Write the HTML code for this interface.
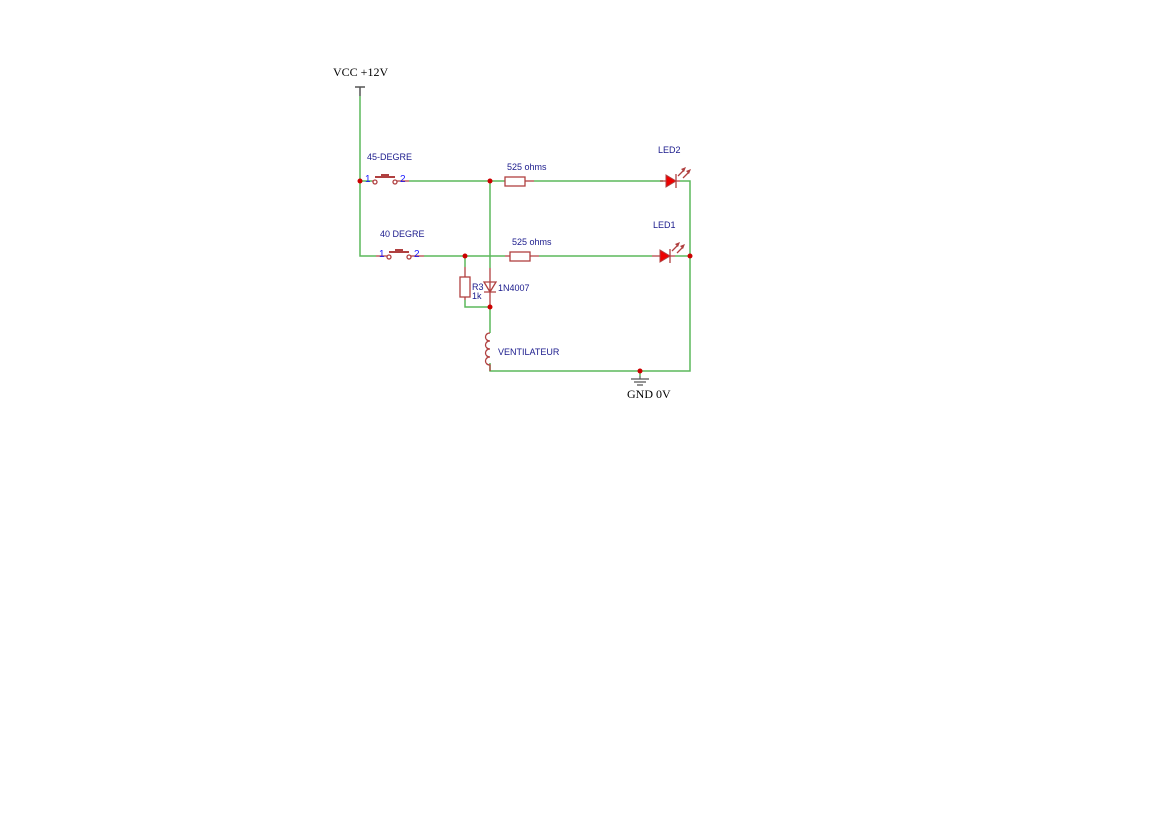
<!DOCTYPE html>
<html><head><style>body{margin:0;background:#fff}svg{display:block}</style></head><body>
<svg width="1169" height="827" xmlns="http://www.w3.org/2000/svg" font-family="Liberation Sans, sans-serif">
<g stroke="#5cb85c" stroke-width="1.5" fill="none">
<path d="M360 96V256H376"/>
<path d="M360 181H372"/>
<path d="M409 181H505"/>
<path d="M534 181H663"/>
<path d="M680 181H690V371H490V363"/>
<path d="M424 256H505"/>
<path d="M539 256H652"/>
<path d="M675 256H690"/>
<path d="M490 181V268"/>
<path d="M465 256V267"/>
<path d="M465 300V307H490V333"/>
<path d="M640 371V376"/>
</g>
<path d="M360 96V87M355 87H365" stroke="#555" stroke-width="1.5"/>
<g stroke="#b04040" stroke-width="1.3" fill="none">
<rect x="505" y="177" width="20" height="9"/><path d="M525 181H534"/>
<rect x="510" y="252" width="20" height="9"/><path d="M530 256H539M505 256H510"/>
<rect x="460" y="277" width="10" height="20"/><path d="M465 267V277M465 297V300"/>
<path d="M490 268V307M484 282H496L490 292ZM484 292H496"/>
<path d="M490 333c-6 0 -6 8 0 8c-6 0 -6 8 0 8c-6 0 -6 8 0 8c-6 0 -6 8 0 8V371"/>
<circle cx="375" cy="182" r="2"/><circle cx="395" cy="182" r="2"/>
<path d="M372 181H373M397 181H409"/>
<path d="M375 177H395M382 177V175H388V177" stroke-width="2"/>
<circle cx="389" cy="257" r="2"/><circle cx="409" cy="257" r="2"/>
<path d="M376 256H387M411 256H424"/>
<path d="M389 252H409M396 252V250H402V252" stroke-width="2"/>
<path d="M660 181H666M676 174V188M676 181H680"/>
<path d="M652 256H660M670 249V263M670 256H675"/>
<path d="M678 176L684 170M683 178L689 172"/>
<path d="M672 251L678 245M677 253L683 247"/>
</g>
<g fill="#b04040"><path d="M686 167L681 169L684 172Z"/><path d="M691 169L686 171L689 174Z"/><path d="M680 242L675 244L678 247Z"/><path d="M685 244L680 246L683 249Z"/></g>
<path d="M666 175V187L676 181Z" fill="#e00" stroke="#b04040"/>
<path d="M660 250V262L670 256Z" fill="#e00" stroke="#b04040"/>
<g stroke="#555" stroke-width="1.2"><path d="M640 376V379M631 379H649M634 382H646M637 385H643"/></g>
<g fill="#c00"><circle cx="360" cy="181" r="2.5"/><circle cx="490" cy="181" r="2.5"/><circle cx="465" cy="256" r="2.5"/><circle cx="690" cy="256" r="2.5"/><circle cx="490" cy="307" r="2.5"/><circle cx="640" cy="371" r="2.5"/></g>
<g font-size="9" fill="#1a1a8c">
<text x="367" y="160">45-DEGRE</text>
<text x="380" y="237">40 DEGRE</text>
<text x="507" y="170">525 ohms</text>
<text x="512" y="245">525 ohms</text>
<text x="658" y="153">LED2</text>
<text x="653" y="228">LED1</text>
<text x="472" y="290">R3</text>
<text x="472" y="299">1k</text>
<text x="498" y="291">1N4007</text>
<text x="498" y="355">VENTILATEUR</text>
</g>
<g font-size="10" fill="#1a1aff"><text x="365" y="182">1</text><text x="400" y="182">2</text><text x="379" y="257">1</text><text x="414" y="257">2</text></g>
<g font-family="Liberation Serif, serif" font-size="12" fill="#000"><text x="333" y="76">VCC +12V</text><text x="627" y="398">GND 0V</text></g>
</svg>
</body></html>
